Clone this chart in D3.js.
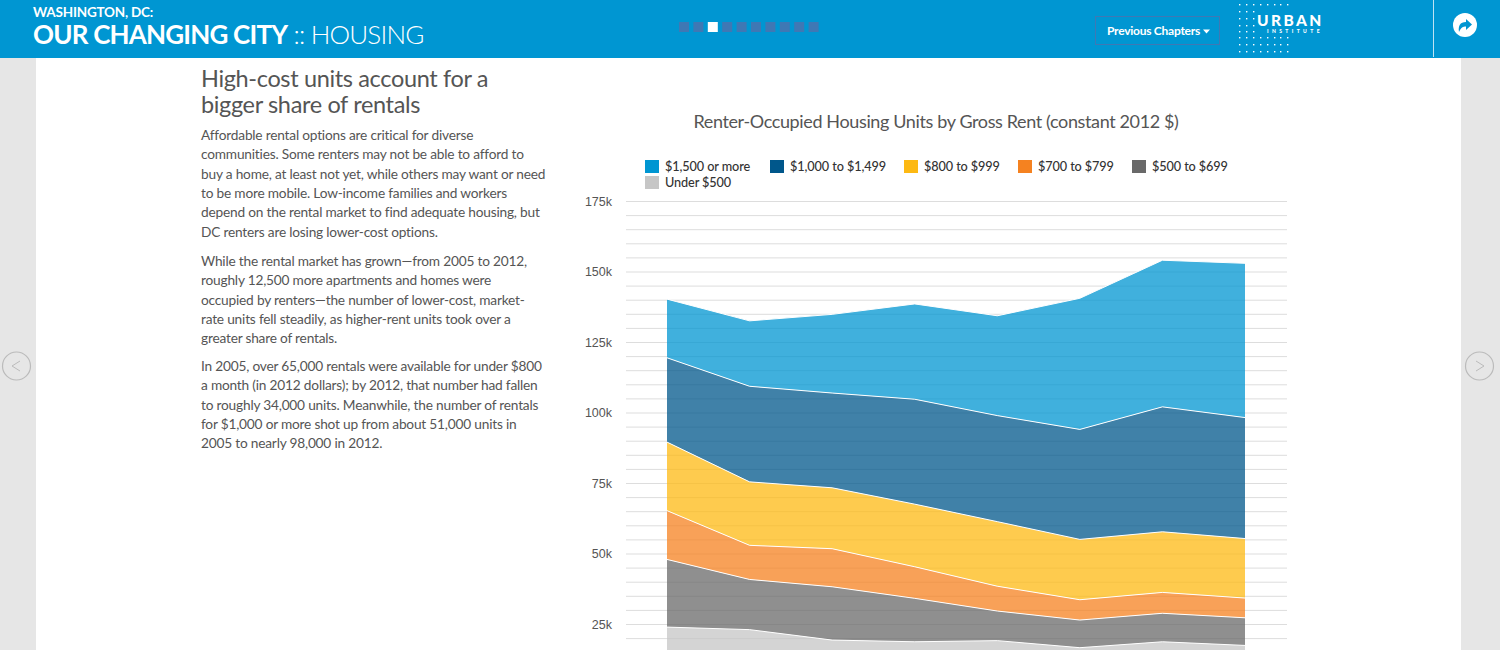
<!DOCTYPE html>
<html>
<head>
<meta charset="utf-8">
<title>Our Changing City :: Housing</title>
<script src="https://cdn.jsdelivr.net/npm/d3@7"></script>
<style>
html, body { margin: 0; padding: 0; background: #fff; overflow: hidden; }
svg { display: block; font-family: Lato, sans-serif; }
.tick text { font-size: 12.5px; fill: #555; }
</style>
</head>
<body>
<div id="page"></div>
<script>
var years = [2005, 2006, 2007, 2008, 2009, 2010, 2011, 2012];
var categories = ["Under $500", "$500 to $699", "$700 to $799", "$800 to $999", "$1,000 to $1,499", "$1,500 or more"];

var under500 = [23900, 23000, 19300, 18700, 19100, 16600, 18700, 17400];
var from500 = [24000, 17800, 18900, 15400, 10500, 9800, 10100, 9800];
var from700 = [17300, 12100, 13500, 11200, 8800, 7200, 7400, 7000];
var from800 = [24300, 22500, 21600, 22200, 22900, 21400, 21500, 21100];
var from1000 = [29900, 33900, 33600, 37200, 37600, 39000, 44300, 42900];
var from1500 = [20800, 23200, 27900, 33800, 35400, 46500, 52000, 54700];

var colors = ["#c6c6c6", "#696969", "#f58220", "#fdb913", "#00578b", "#0096d2"];
var legendOrder = [5, 4, 3, 2, 1, 0];
var legendX = [645, 770, 904, 1018, 1132, 645];
var legendY = [160, 160, 160, 160, 160, 176];

var yTicks = [25000, 50000, 75000, 100000, 125000, 150000, 175000];

var headline = ["High-cost units account for a", "bigger share of rentals"];
var paragraphs = [
    ["Affordable rental options are critical for diverse",
     "communities. Some renters may not be able to afford to",
     "buy a home, at least not yet, while others may want or need",
     "to be more mobile. Low-income families and workers",
     "depend on the rental market to find adequate housing, but",
     "DC renters are losing lower-cost options."],
    ["While the rental market has grown\u2014from 2005 to 2012,",
     "roughly 12,500 more apartments and homes were",
     "occupied by renters\u2014the number of lower-cost, market-",
     "rate units fell steadily, as higher-rent units took over a",
     "greater share of rentals."],
    ["In 2005, over 65,000 rentals were available for under $800",
     "a month (in 2012 dollars); by 2012, that number had fallen",
     "to roughly 34,000 units. Meanwhile, the number of rentals",
     "for $1,000 or more shot up from about 51,000 units in",
     "2005 to nearly 98,000 in 2012."]
];
var paragraphTop = [140, 266, 371];

var svg = d3.select("#page").append("svg").attr("width", 1500).attr("height", 650);

// page frame
svg.append("rect").attr("x", 0).attr("y", 58).attr("width", 36).attr("height", 592).attr("fill", "#e6e6e6");
svg.append("rect").attr("x", 1461).attr("y", 58).attr("width", 39).attr("height", 592).attr("fill", "#e6e6e6");
svg.append("rect").attr("width", 1500).attr("height", 58).attr("fill", "#0096d2");

// header
svg.append("text").attr("x", 33).attr("y", 17).attr("fill", "#fff")
    .style("font-size", "13.5px").style("font-weight", 700).style("letter-spacing", "-0.2px").text("WASHINGTON, DC:");
var bigTitle = svg.append("text").attr("x", 33).attr("y", 44).attr("fill", "#fff")
    .style("font-size", "26px").style("letter-spacing", "-0.8px");
bigTitle.append("tspan").style("font-weight", 700).text("OUR CHANGING CITY");
bigTitle.append("tspan").style("font-weight", 300).text(" :: HOUSING");

svg.selectAll(".pager").data(d3.range(10)).enter().append("rect")
    .attr("class", "pager")
    .attr("x", d => 679 + d * 14.4).attr("y", 22).attr("width", 10).attr("height", 10)
    .attr("fill", d => d == 2 ? "#fff" : "#3f78b4");

svg.append("rect").attr("x", 1095.5).attr("y", 16.5).attr("width", 124).attr("height", 28)
    .attr("fill", "none").attr("stroke", "#3f78b4");
svg.append("text").attr("x", 1107).attr("y", 35).attr("fill", "#fff")
    .style("font-size", "12px").style("font-weight", 700).style("letter-spacing", "-0.25px").text("Previous Chapters");
svg.append("path").attr("d", "M1203,29.500h7l-3.500,4z").attr("fill", "#fff");

// logo
var dotRows = [4, 11, 18, 25, 31, 37, 44, 51];
dotRows.forEach(y => {
    svg.selectAll(null).data(d3.range(8)).enter().append("rect")
        .attr("x", d => Math.round(1239 + d * 6.9)).attr("y", y).attr("width", 1.4).attr("height", 1.4)
        .attr("fill", "#fff");
});
svg.append("rect").attr("x", 1256).attr("y", 11).attr("width", 36).attr("height", 25).attr("fill", "#0096d2");
svg.append("text").attr("x", 1257).attr("y", 26).attr("fill", "#fff")
    .style("font-size", "15.5px").style("font-weight", 900).style("letter-spacing", "2.4px").text("URBAN");
svg.append("text").attr("x", 1267).attr("y", 33).attr("fill", "#fff")
    .style("font-size", "5px").style("font-weight", 900).style("letter-spacing", "3.4px").text("INSTITUTE");

// share button
svg.append("line").attr("x1", 1433.5).attr("x2", 1433.5).attr("y1", 0).attr("y2", 57)
    .attr("stroke", "#bfe3f3");
svg.append("circle").attr("cx", 1465).attr("cy", 25).attr("r", 12).attr("fill", "#fff");
svg.append("path").attr("d", "M1459,32c-1-6,1-10,7-10v-3l6,5.500-6,5.500v-3.500c-3,0-5,1-7,5.500z").attr("fill", "#0096d2");

// prev / next
svg.append("circle").attr("cx", 16.5).attr("cy", 366).attr("r", 14).attr("fill", "none").attr("stroke", "#bbb").attr("stroke-width", 1.2);
svg.append("path").attr("d", "M20,361l-8,5l8,5").attr("fill", "none").attr("stroke", "#bbb");
svg.append("circle").attr("cx", 1479.5).attr("cy", 366).attr("r", 14).attr("fill", "none").attr("stroke", "#bbb").attr("stroke-width", 1.2);
svg.append("path").attr("d", "M1476,361l8,5l-8,5").attr("fill", "none").attr("stroke", "#bbb");

// left column
svg.selectAll(".headline").data(headline).enter().append("text")
    .attr("class", "headline")
    .attr("x", 201).attr("y", (d, i) => 87 + i * 25.5)
    .attr("fill", "#555").style("font-size", "23.5px").style("letter-spacing", "-0.35px").text(d => d);

paragraphs.forEach((lines, p) => {
    svg.selectAll(null).data(lines).enter().append("text")
        .attr("x", 201).attr("y", (d, i) => paragraphTop[p] + i * 19.3)
        .attr("fill", "#555").style("font-size", "13.7px").style("letter-spacing", "-0.2px").text(d => d);
});

// chart
svg.append("text").attr("x", 936).attr("y", 127.5).attr("text-anchor", "middle")
    .attr("fill", "#555").style("font-size", "18px").style("letter-spacing", "-0.37px")
    .text("Renter-Occupied Housing Units by Gross Rent (constant 2012 $)");

var rows = years.map((year, i) => ({
    year: year,
    "Under $500": under500[i],
    "$500 to $699": from500[i],
    "$700 to $799": from700[i],
    "$800 to $999": from800[i],
    "$1,000 to $1,499": from1000[i],
    "$1,500 or more": from1500[i]
}));

var x = d3.scalePoint().domain(years).range([667, 1245]);
var y = d3.scaleLinear().domain([0, 175000]).range([694.5, 201]);

var axisG = svg.append("g").attr("transform", "translate(1287,0)").call(d3.axisLeft(y)
    .tickValues(d3.range(5000, 175001, 5000))
    .tickSize(661)
    .tickPadding(14)
    .tickFormat(d => yTicks.includes(d) ? (d / 1000) + "k" : ""));
axisG.select(".domain").remove();
axisG.selectAll(".tick line").attr("stroke", "#ddd");

var stacked = d3.stack().keys(categories)(rows);

var area = d3.area()
    .x(d => x(d.data.year))
    .y0(d => y(d[0]))
    .y1(d => y(d[1]));
var topLine = d3.line()
    .x(d => x(d.data.year))
    .y(d => y(d[1]));

svg.append("g").selectAll("path").data(stacked).enter().append("path")
    .attr("d", area)
    .attr("fill", (d, i) => colors[i])
    .attr("fill-opacity", 0.75);
svg.append("g").selectAll("path").data(stacked).enter().append("path")
    .attr("d", topLine)
    .attr("fill", "none")
    .attr("stroke", "#fff")
    .attr("stroke-width", 1);

// legend
legendOrder.forEach((c, i) => {
    svg.append("rect").attr("x", legendX[i]).attr("y", legendY[i]).attr("width", 14).attr("height", 13)
        .attr("fill", colors[c]);
    svg.append("text").attr("x", legendX[i] + 20).attr("y", legendY[i] + 11)
        .attr("fill", "#333").style("font-size", "12.7px").style("font-weight", 500).style("letter-spacing", "-0.1px").text(categories[c]);
});
</script>
</body>
</html>
